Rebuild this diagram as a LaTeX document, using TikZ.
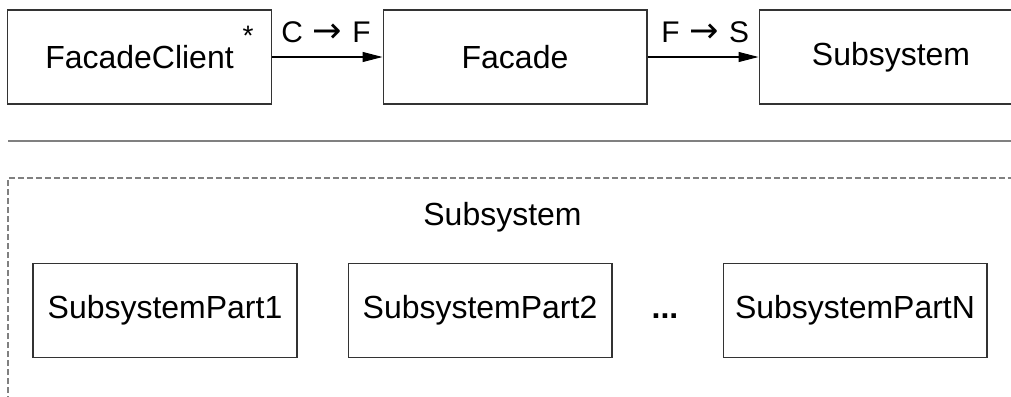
\documentclass[tikz,border=0pt]{standalone}
\usepackage{fontspec}
\setmainfont{Liberation Sans}
\newfontfamily\arrowfont{DejaVu Sans}
\newcommand{\goesto}{\hspace{0.2cm}{\arrowfont\fontsize{20pt}{21pt}\selectfont →}\hspace{0.2cm}}
\usetikzlibrary{arrows.meta, positioning}

\begin{document}
\begin{tikzpicture}[
  x=0.02cm, y=-0.02cm,
  classbox/.style={rectangle, draw=black!80, line width=0.6pt,
                minimum width=5.28cm, minimum height=1.88cm,
                font=\fontsize{18.2pt}{22pt}\selectfont, align=center},
  lbl/.style={inner sep=0pt, font=\fontsize{17pt}{19pt}\selectfont},
  arr/.style={-{Triangle[length=0.4cm, width=0.2cm]}, line width=0.6pt},
  sep/.style={draw=black!50, line width=0.9pt}
]
\useasboundingbox (0,0) rectangle (1011,396);

% Top row
\node[classbox] (client) at (139.5,57) {FacadeClient};
\node[classbox] (facade) at (515,57) {Facade};
\node[classbox] (subsys) at (891,57) {Subsystem};

% Labels
\node[lbl, anchor=base, font=\fontsize{16pt}{17pt}\selectfont] (mult) at (248,45) {*};
\node[lbl, anchor=base west] (cf) at (281,42) {C\goesto F};
\node[lbl, anchor=base west] (fs) at (661,42) {F\goesto S};

% Arrows
\draw[arr] (client.east) -- (facade.west);
\draw[arr] (facade.east) -- (subsys.west);

% Separator
\draw[sep] (8,141) -- (1011,141);

% Subsystem container
\draw[draw=black!50, line width=0.6pt, dash pattern=on 0.12cm off 0.06cm]
  (8,420) -- (8,178) -- (1030,178);
\node[font=\fontsize{18.2pt}{22pt}\selectfont] (title) at (502.5,217) {Subsystem};

% Parts
\node[classbox] (part1) at (165,310.5) {SubsystemPart1};
\node[classbox] (part2) at (480,310.5) {SubsystemPart2};
\node[classbox] (partn) at (855,310.5) {SubsystemPartN};
\node[font=\fontsize{18.2pt}{22pt}\selectfont\bfseries, anchor=base] (dots)
  at ([xshift=3.7cm]part2.base) {...};
\end{tikzpicture}
\end{document}
